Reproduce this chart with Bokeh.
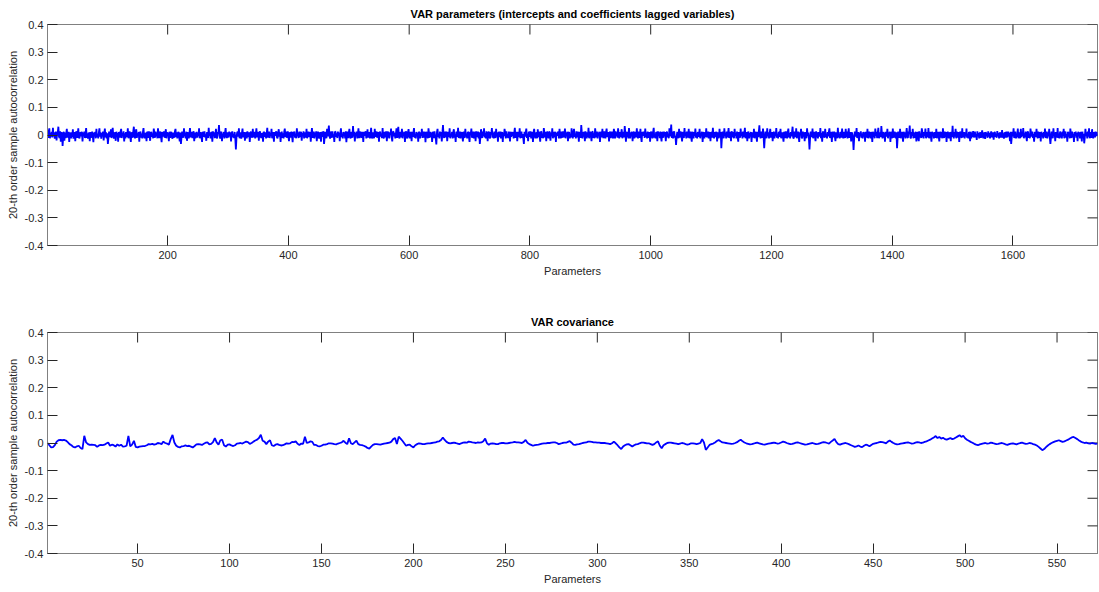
import math
from bokeh.plotting import figure
from bokeh.layouts import column
from bokeh.models import Range1d, LinearAxis, FixedTicker, CustomJSTickFormatter
from bokeh.embed import file_html
from bokeh.resources import INLINE

FONT = "Liberation Sans"
TEXT = "#262626"
AXIS = "#808080"
LINE = "#0000ff"

var_title = "VAR parameters (intercepts and coefficients lagged variables)"
cov_title = "VAR covariance"
y_label = "20-th order sample autocorrelation"
x_label = "Parameters"
y_min, y_max = -0.4, 0.4
y_ticks = [-0.4, -0.3, -0.2, -0.1, 0, 0.1, 0.2, 0.3, 0.4]
var_x_ticks = [200, 400, 600, 800, 1000, 1200, 1400, 1600]
cov_x_ticks = [50, 100, 150, 200, 250, 300, 350, 400, 450, 500, 550]
var_n = 1740
cov_n = 572

# autocorrelation values in thousandths, parameters 1..N
var_milli = [
    2, -10, 12, 24, -12, 8, -6, 11, -9, 26, -5, 10, -13, 4, 12, -20, 7, 9, 30, -6, -11, 13, -24, 5, 10, -40, -8, 12, -21, 9,
    -11, 6, 22, -9, -3, 12, -25, 8, 4, -12, 10, -7, 21, -13, 3, 11, -22, 7, 13, -10, 2, 24, -9, -12, 10, 6, -5, 12, -23, 9,
    -4, 12, -11, 7, 25, -10, 5, -13, 9, 3, -22, 11, -10, 6, 12, -5, -26, 9, 2, 11, -12, 22, -8, 4, -12, 8, 24, -6, 10, -13,
    7, -5, 12, -20, 4, 23, -9, 10, -12, 6, -32, -10, 12, 5, -8, 21, -11, 8, 26, -4, -13, 10, 3, -21, 12, -6, 7, -24, 11, 3,
    -9, 12, 22, -11, 8, -4, 13, -23, 6, -12, 11, 3, -7, 24, -12, 8, 13, -6, -25, 10, 4, -10, 12, 30, -5, -12, 9, 21, -10, 6,
    -2, 11, -24, 7, 12, -9, 5, -12, 10, 25, -6, -11, 8, 3, -22, 12, 7, -10, 13, -3, -21, 8, 11, -7, 5, -12, 23, 6, -10, 12,
    -5, 9, -12, 24, 3, -11, 8, 12, -8, -26, 11, 5, -6, 13, -10, 7, 21, -12, 10, -3, 9, -22, 12, -10, 6, 11, -7, -13, 9, 3,
    -10, 13, 22, -8, 10, -12, 6, 11, -5, -23, 9, -32, -7, 12, 3, -10, 24, -4, 8, -12, 12, -21, 2, 10, -12, 6, 25, -8, -3, 11,
    -11, 7, 13, -22, 9, -12, 3, 11, -10, 8, -4, 24, -12, 6, 10, -8, -25, 12, 5, -7, 13, -9, 2, -21, 10, 7, -11, 26, -3, 8,
    -12, 11, 6, -24, 13, -4, 10, -11, 3, 22, -8, -12, 11, 7, 36, -3, -13, 9, 12, -22, 5, -7, 11, -12, 8, 25, -5, -11, 10, 2,
    -9, 12, -4, 10, -23, 6, 13, -8, 3, -11, 11, -12, -52, -10, 8, 12, -6, 24, -12, 5, 10, -13, 7, 23, -8, -3, 11, -21, 9, 6,
    -12, 13, 3, -7, 10, -25, 8, 12, -4, -10, 22, -9, 6, 11, -12, 4, 24, -8, -2, 12, -21, 9, 13, -5, -11, 7, 2, -24, 12, 8,
    -7, 10, -12, 6, 26, -9, 3, 12, -11, 8, -4, 22, -12, 10, 5, -24, 11, -3, 9, 13, -8, -12, 7, 21, -6, 10, -25, 3, 12, -10,
    6, -12, 11, 23, -7, 12, -10, 3, 13, -8, -22, 10, 5, -9, 12, -3, -26, 11, 7, 12, -10, 2, -12, 24, -5, 9, -11, 12, 4, -8,
    12, -21, 7, -4, 13, -12, 10, 3, -9, 22, -12, 8, 12, -7, -2, 11, -24, 6, 25, -10, 4, 12, -12, 9, -6, 13, -22, 2, 12, -8,
    -12, 10, 4, -24, 12, -7, 8, 13, -32, -9, 11, 3, -12, 22, -5, 10, 34, -4, -13, 12, 7, -10, 13, -8, 2, -25, 11, 12, -7, 6,
    -11, 12, -3, 9, -22, 7, 24, -8, 4, -12, 11, -4, 10, -12, 13, -26, 3, 12, -11, 8, 22, -7, -12, 11, 6, -10, 32, -5, 12, -23,
    8, -4, 12, -12, 3, 24, -11, 9, 12, -7, -10, 11, 4, -25, 12, -3, 8, 13, -12, -6, 21, -9, 2, 11, -12, 7, 26, -8, -12, 10,
    4, -12, 22, -7, 9, 12, -10, -3, 11, -24, 8, 12, -6, 3, -11, 25, -8, -12, 11, 6, -9, 13, -22, 7, 12, -4, -12, 10, 2, 23,
    -8, -23, 11, 12, -5, 8, -12, 4, 24, -10, 3, 30, -7, -12, 11, 6, -9, 22, -12, 10, -3, 12, -25, 7, 13, -8, -12, 9, 21, -4,
    -12, 11, 6, -22, 12, -7, 9, 25, -10, 3, -12, 11, -4, 8, -24, 12, 7, -12, 10, -3, 22, -11, 12, 4, -9, 12, -26, 8, 11, -5,
    -12, 24, 3, -10, 11, -7, 9, -25, 12, 6, -11, 13, -4, -12, -34, 10, 22, -8, 4, -12, 12, -3, 11, -23, 8, 36, -5, -11, 12, -9,
    7, 12, -22, 3, 11, -8, 24, -12, 4, -6, 11, -12, 10, 21, -9, 2, -25, 12, 8, -7, 26, -11, 3, 12, -12, 6, 10, -4, -23, 12,
    8, -11, 22, -6, 4, -12, 11, 9, -8, -25, 12, 3, 23, -10, -4, 12, -12, 7, 11, -22, 13, -7, -2, 12, -12, 10, -32, -8, 21, 6,
    -11, 12, -4, 24, -9, 7, -12, 13, 3, -22, 9, 12, -7, -12, 11, 4, 25, -10, 8, -12, 12, -3, -11, 22, -6, 10, -24, 6, 12, -8,
    12, -12, 3, 11, -25, 9, -4, 22, 7, -12, 13, -9, 2, -11, 12, 6, -23, 12, -7, 10, -3, 11, -12, 8, 26, -10, -5, 12, -22, 4,
    11, -8, 24, -12, 6, 12, -10, 3, -12, -32, 12, -6, 9, 23, -11, 4, -22, 12, 8, -7, 13, -12, 2, 11, -25, 10, 22, -4, -12, 9,
    6, -12, 21, -8, 12, -3, -24, 11, 12, -10, 4, -12, 25, 7, -9, 12, -22, 3, 13, -7, -11, 10, 12, -21, 8, -4, 24, -12, 6, 11,
    -9, 12, -25, 8, -3, 11, 10, -12, 22, -6, -12, 12, 4, -10, 13, -8, 2, 23, -12, 9, -4, 12, -22, 7, 11, -12, 3, -8, 24, -3,
    -12, 10, 22, -7, 4, -12, 13, -9, 11, 6, -24, 12, -4, -10, 36, 8, -12, 11, -6, 12, -22, 13, 3, -12, 10, -8, 26, -12, 7, 12,
    -4, -22, 11, 12, -10, 6, -12, 24, 3, -8, 12, -12, 9, -3, 12, -25, 7, 11, -9, 22, -6, -11, 13, 4, -12, 10, 23, -7, -2, 11,
    -23, 8, 12, -11, 4, 12, -7, -12, 22, 9, -12, 13, -4, 10, -10, 24, 3, -12, 11, -8, 7, 21, -12, -3, 11, -9, 32, 6, -24, 12,
    -7, 11, -12, 25, 4, -12, 10, -5, 12, -22, 8, 12, -12, 3, 11, -9, 24, -4, -12, 12, 7, -10, 22, -8, -25, 11, 6, -3, 12, -11,
    23, -7, 9, -12, 12, 3, -10, 11, -24, 8, 12, -5, -12, 10, 26, -9, 4, -12, 11, 7, -22, 13, -3, 10, -11, 12, -8, -23, 11, 6,
    -10, 12, -4, 11, -22, 8, 12, -8, 3, -12, 24, -5, 10, 38, -11, 12, -12, 7, 13, -9, -3, -36, -7, 11, 4, -12, 22, -10, 9, 12,
    -5, -23, 11, 8, -11, 25, -4, 10, -12, 12, 3, -9, 22, -12, 7, 12, -8, -24, 12, 4, -12, 11, -3, 23, -10, 8, -12, 11, 6, -7,
    22, -12, 9, -4, 12, -25, 3, 11, -12, 10, -7, 24, -9, 6, 12, -12, -3, 11, -22, 10, 8, -10, 26, -5, -12, 11, 4, -8, 12, -23,
    10, 3, -12, 22, -7, 11, -48, -10, 12, 5, -12, 24, -4, 9, -12, 12, -8, 3, 25, -11, -5, 12, -22, 13, 7, -9, 11, -12, 22, -3,
    8, -12, 12, -7, -24, 11, 4, -10, 23, -4, 10, -12, 12, -8, 5, 26, -12, -3, 11, -22, 9, 12, -12, 7, -5, 11, -25, 10, 3, -9,
    22, -12, 8, 11, -5, -24, 12, -8, 10, 35, -4, -12, 12, 3, -10, 23, -7, -48, -11, 12, 7, -12, 24, -5, 10, -12, 4, 22, -9, -3,
    11, -22, 6, 12, -12, 10, -4, 25, -10, 3, -12, 11, 9, -7, 22, -12, 4, 10, -8, -24, 12, 5, -11, 13, -3, -12, 10, 23, -9, 7,
    -12, 11, -5, 10, 30, -10, -12, 12, 4, -8, 24, -12, 7, 12, -4, -25, 10, 3, 22, -9, -12, 12, -6, 10, -22, 11, 5, -12, 24, -4,
    9, -11, -52, -12, 12, 6, -8, 23, -12, 4, 11, -5, -22, 13, -9, 10, -12, 11, 3, -6, 25, -12, 7, -24, 10, 12, -4, -10, 22, -8,
    4, -12, 11, -5, 10, 24, -11, -3, 12, -25, 7, 11, -9, 12, -6, -22, 10, 5, -12, 26, -8, 3, -12, 11, 8, -10, 23, -4, -12, 11,
    6, -11, 22, -8, 12, -12, 4, 24, -10, -5, 11, -23, 10, 3, -12, -54, -12, 12, 7, -6, 25, -11, 4, 11, -22, 8, -4, 13, -10, 5,
    -12, 11, -6, 10, -24, 12, 3, -9, 22, -12, 7, 12, -5, -12, 11, 4, -25, 12, -8, 10, -12, 23, -3, 11, -11, 6, 26, -12, -4, 10,
    -8, 32, 5, -12, 11, -10, 9, -24, 12, 3, -6, 22, -12, 10, -4, 12, -25, 7, 11, -12, 23, -5, -9, 12, 4, -12, 10, -48, -11, 12,
    5, -10, 22, -12, 7, 11, -4, -24, 12, -8, 10, -12, 3, 25, -6, -11, 12, 6, 34, -9, -12, 11, -3, 22, -12, 8, 4, -10, 12, -23,
    -12, 11, 7, -22, 13, -8, 3, -11, 24, 10, -5, -12, 11, -3, 23, -12, 6, 10, -9, 25, -12, 4, 11, -6, -24, 12, -4, 9, -12, 11,
    3, -10, 22, -12, 7, 11, -5, -23, 12, -9, 4, 11, -12, 24, -3, -11, 12, -8, 11, -25, 6, 12, -5, -12, 10, 3, -22, 12, -7, 33,
    -4, -12, 11, -6, 22, -12, 12, 5, -9, 11, -25, 7, 12, -4, -11, 24, -8, 3, 11, -12, 10, -5, 23, -10, 4, -12, 11, 7, -22, 12,
    -12, 9, -7, 14, -9, 5, 12, -8, 3, -18, 13, -5, 8, -12, 6, 10, -10, 4, 17, -6, -11, 9, 5, -14, 11, -4, 7, -10, 13, -6,
    8, -12, 5, 13, -8, -4, 10, -17, 6, 11, -7, 4, -10, 14, -5, 8, -12, 5, 10, -9, -3, 18, -10, 6, -13, 10, 4, -9, 12, -5,
    -8, 12, -4, 7, -22, 12, -32, -9, 11, -5, 24, -11, 7, 12, -12, 4, -7, 23, -12, 10, 3, -12, 22, -8, 11, -4, 25, -12, 6, -9,
    12, -5, -22, 10, 12, -10, 4, -12, 23, 7, -6, 12, -11, 3, -24, 11, 8, -8, 22, -4, -12, 12, 5, -10, 11, -23, 12, -3, 7, -12,
    11, -6, 23, -11, 4, 12, -12, 9, -5, 22, -10, -32, -8, 12, 6, -12, 24, -4, 10, -22, 11, 3, -9, 25, -11, 5, -12, 12, 7, -6,
    -12, 12, -4, 22, -12, 9, 12, -9, 3, -24, 12, -6, 10, -12, 23, 5, -11, 12, -8, 4, -25, 11, -3, 12, -10, 7, -22, 12, -5, 10,
    -12, 11, 6, -23, 12, -11, 4, -30, -8, 22, -4, 10, -12, 12, -6, 24, -12, 11, 3, -10, 21, -5, -12, 10, 7, -9, 12, -4, 10, -3,
]

cov_milli = [
    0, -8, -16, -15, -8, 5, 10, 11, 10, 11, 9, 3, -4, -8, -14, -16, -12, -10, -18, -22,
    26, 2, -4, -7, -6, -7, -8, -14, -9, -7, -8, -6, -2, 2, -10, -6, -8, -13, -5, -10,
    -6, -13, -12, -10, 26, -12, -6, 8, -14, -16, -13, -12, -11, -11, -8, -4, -5, -3, -6, -4,
    0, -1, -4, 5, 0, -2, -6, 14, 29, 2, -10, -14, -16, -12, -11, -9, -11, -10, -13, -16,
    -11, -5, -4, -5, -7, -3, 1, 2, -5, -3, 3, 18, 2, -6, 10, 12, -8, -13, -6, -5,
    -9, -11, -8, -2, -1, 0, -2, 2, 5, 3, -3, 0, 5, 9, 12, 18, 30, 8, 5, -4,
    5, 10, -8, -11, -6, -4, -7, -9, -8, -5, -1, -2, -1, 4, 3, 6, -3, -7, -2,
    -3, 23, 0, 2, 6, 4, -7, -7, -11, -12, -10, -6, -6, -4, -1, -1, -2, -4, -5, -2,
    0, 2, 8, 1, -4, 17, -1, -4, 2, 8, -4, -7, -8, -10, -13, -18, -20, -13, -7, -4,
    -4, -5, -6, -4, -2, -1, 0, 1, 5, 14, 18, -4, 23, 16, 8, -1, -10, -7, -6, -12,
    -16, -8, -4, -1, -2, -4, -4, -2, -1, -1, 0, 1, 2, 5, 6, 11, 20, 11, 4, 0,
    -1, 0, 1, 0, -2, -4, -1, 1, 2, 1, 5, 4, 2, 1, 0, 2, 1, 2, 6, 16,
    -1, -6, -2, -1, -2, -4, -4, -1, 0, 0, -1, -1, 0, 1, 2, 4, 2, 2, 1, 0,
    4, 11, 1, -4, -7, -10, -8, -7, -6, -4, -2, -1, -1, 0, 0, 1, 2, 2, 0, -4,
    -2, 0, 1, 1, 4, 7, 1, -6, -7, -5, -4, -2, 0, 1, 2, 5, 5, 4, 2, 2,
    1, 1, 0, 0, 0, -1, -2, -4, -1, 5, -1, -8, -16, -22, -13, -8, -5, -4, -8, -13,
    -8, -5, -4, -1, 1, 1, 0, -1, -1, -4, -7, -4, 2, 6, -10, -19, -8, -4, 0, 1,
    1, 0, -1, -2, -4, -2, 0, -1, -4, -6, -4, -1, -1, -2, -4, -2, 0, 14, 2, -25,
    -16, -7, -4, -2, 2, 7, 11, 6, 2, 1, 0, -1, -2,
    -3, -2, 0, 3, 8, 12, 6, 2, -1, -3, -5, -4, -2, 0, 1, -1, -3, -5, -6, -4, -2, -1, 0, 1, 0, -2, -1, 2,
    5, 3, 0, -2, -4, -3, -1, 1, 2, 0, -2, -4, -6, -5, -3, -1, 0, -2, -4, -3, -1, 1, 3, 2, 0, -2, 4, 9, 15, 3,
    -4, -6, -3, -1, 0, -2, -5, -8, -11, -14, -12, -9, -13, -15, -10, -6, -8, -12, -7, -3, -1, 0, 2, 4, 3, 1, -1, 5, 9, 4,
    0, -3, -5, -4, -2, -1, 0, 1, 2, 0, -2, -1, 1, 3, 2, 0, 1, 4, 6, 9, 12, 16, 20, 25, 18, 22, 16, 19, 14, 12,
    15, 18, 14, 16, 20, 24, 28, 22, 26, 17, 12, 8, 4, 1, -3, -6, -8, -5, -3, -1, 0, -2, -1, 1, 0, -2, -4, -3, -1, 0,
    -2, -5, -7, -4, -2, -1, -3, -5, -2, 0, 1, -1, -3, -2, 0, -1, -4, -6, -9, -14, -20, -26, -22, -15, -9, -4, 0, 3, 6, 8,
    10, 7, 4, 6, 9, 12, 16, 20, 22, 18, 14, 9, 5, 2, 0, 1, -1, -2, 0, -1, -3, -2,
]


def style_axis(ax, ticks, standoff):
    ax.ticker = FixedTicker(ticks=ticks)
    ax.axis_line_color = AXIS
    ax.axis_line_width = 1
    ax.major_tick_line_color = TEXT
    ax.major_tick_line_width = 1
    ax.major_tick_in = 10
    ax.major_tick_out = 0
    ax.minor_tick_line_color = None
    ax.major_label_text_font = FONT
    ax.major_label_text_color = TEXT
    ax.major_label_standoff = standoff
    ax.major_label_text_font_size = "11px"
    ax.axis_label_text_font = FONT
    ax.axis_label_text_font_size = "11px"
    ax.axis_label_text_font_style = "normal"
    ax.axis_label_text_color = TEXT
    ax.axis_label_standoff = 3


def make_panel(title, vals_milli, n, xticks, height, top, bottom):
    xs = list(range(1, len(vals_milli) + 1))
    ys = [v / 1000 for v in vals_milli]
    p = figure(width=1099, height=height,
               x_range=Range1d(1, n), y_range=Range1d(y_min, y_max),
               x_axis_type=None, y_axis_type=None,
               output_backend="svg", toolbar_location=None,
               min_border_left=47, min_border_right=2,
               min_border_top=top, min_border_bottom=bottom,
               title=title)
    p.outline_line_color = AXIS
    p.outline_line_width = 1
    p.title.text_font = FONT
    p.title.text_font_size = "11px"
    p.title.text_font_style = "bold"
    p.title.text_color = "#000000"
    p.title.align = "center"
    p.title.standoff = 10

    xb = LinearAxis(axis_label=x_label)
    style_axis(xb, xticks, 5)
    p.add_layout(xb, "below")

    yl = LinearAxis(axis_label=y_label)
    style_axis(yl, y_ticks, 4)
    yl.formatter = CustomJSTickFormatter(code="return Math.abs(tick) < 1e-9 ? '0' : tick.toFixed(1);")
    p.add_layout(yl, "left")

    # inward tick marks on the top and right edges of the box (half is clipped by the frame)
    p.scatter(x=xticks, y=[y_max] * len(xticks), marker="dash", size=20,
              angle=math.pi / 2, line_color=TEXT, line_width=1)
    p.scatter(x=[n] * len(y_ticks), y=y_ticks, marker="dash", size=20,
              line_color=TEXT, line_width=1)

    p.line(xs, ys, line_color=LINE, line_width=1.8)
    return p


p1 = make_panel(var_title, var_milli, var_n, var_x_ticks, 296, 23, 51)
p2 = make_panel(cov_title, cov_milli, cov_n, cov_x_ticks, 296, 36, 39)

layout = column(p1, p2, spacing=0)
open("out.html", "w").write(file_html(layout, INLINE))
